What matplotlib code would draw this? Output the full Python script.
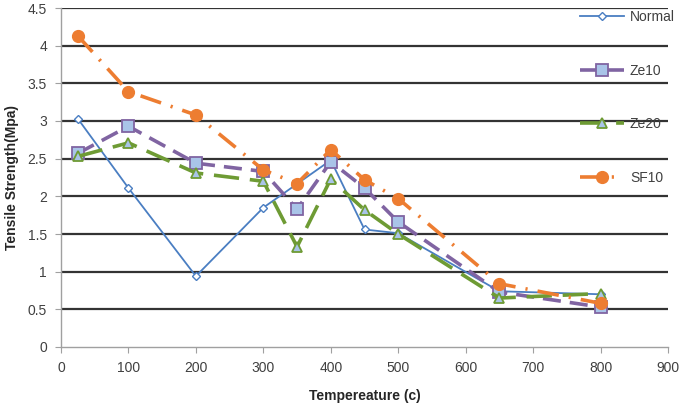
import matplotlib
matplotlib.use('Agg')
import matplotlib.pyplot as plt

plt.rcParams['font.family'] = ['Liberation Sans', 'DejaVu Sans']

# Data
temp_normal = [25, 100, 200, 300, 400, 450, 500, 650, 800]
normal = [3.03, 2.11, 0.94, 1.85, 2.48, 1.56, 1.51, 0.74, 0.70]

temp_all = [25, 100, 200, 300, 350, 400, 450, 500, 650, 800]
ze10 = [2.57, 2.93, 2.44, 2.33, 1.83, 2.46, 2.11, 1.66, 0.73, 0.53]
ze20 = [2.53, 2.71, 2.31, 2.20, 1.33, 2.23, 1.82, 1.50, 0.65, 0.71]
sf10 = [4.13, 3.39, 3.08, 2.35, 2.17, 2.62, 2.22, 1.97, 0.84, 0.58]

xticks = list(range(0, 901, 100))
yticks = [0, 0.5, 1, 1.5, 2, 2.5, 3, 3.5, 4, 4.5]

fig = plt.figure(figsize=(6.85, 4.05), dpi=100)
ax = fig.add_axes([61/685, 58/405, 607/685, 339/405])

# gridlines
for y in yticks[1:]:
    ax.axhline(y, color='#333333', lw=1.6, zorder=1)

ax.plot(temp_normal, normal, color='#4A7EC2', lw=1.3, marker='D', ms=4.5,
        mfc='white', mec='#4A7EC2', mew=1.0, label='Normal', zorder=3)
ax.plot(temp_all, ze10, color='#8064A2', lw=2.6, dashes=(5, 2.5), marker='s', ms=8,
        mfc='#A9C4E8', mec='#8064A2', mew=1.3, label='Ze10', zorder=3)
ax.plot(temp_all, ze20, color='#6E9B34', lw=2.6, dashes=(7, 3), marker='^', ms=7.5,
        mfc='#A9C4E8', mec='#6E9B34', mew=1.3, label='Ze20', zorder=3)
ax.plot(temp_all, sf10, color='#ED7D31', lw=2.6, dashes=(6, 2.8, 0.6, 2.8), marker='o', ms=8.5,
        mfc='#ED7D31', mec='#ED7D31', label='SF10', zorder=4)

ax.set_xlim(0, 900)
ax.set_ylim(0, 4.5)
ax.set_xticks(xticks)
ax.set_yticks(yticks)
ax.set_yticklabels(['0', '0.5', '1', '1.5', '2', '2.5', '3', '3.5', '4', '4.5'])

for s in ['top', 'right']:
    ax.spines[s].set_visible(False)
for s in ['left', 'bottom']:
    ax.spines[s].set_color('#A0A0A0')
    ax.spines[s].set_linewidth(1.0)
ax.tick_params(axis='both', colors='#A0A0A0', length=4, labelsize=10, labelcolor='#404040')
ax.tick_params(axis='y', pad=6)
ax.tick_params(axis='x', pad=6)

ax.set_xlabel('Tempereature (c)', fontsize=10, fontweight='bold', color='#262626', labelpad=10)
ax.set_ylabel('Tensile Strength(Mpa)', fontsize=10, fontweight='bold', color='#262626', labelpad=6)

leg = fig.legend(loc='upper left', bbox_to_anchor=(580/685, 395/405), frameon=False,
                 fontsize=10, labelspacing=2.85, handlelength=3.2, handletextpad=0.4,
                 borderpad=0, borderaxespad=0)
for t in leg.get_texts():
    t.set_color('#404040')

fig.savefig('out.png', dpi=100)
